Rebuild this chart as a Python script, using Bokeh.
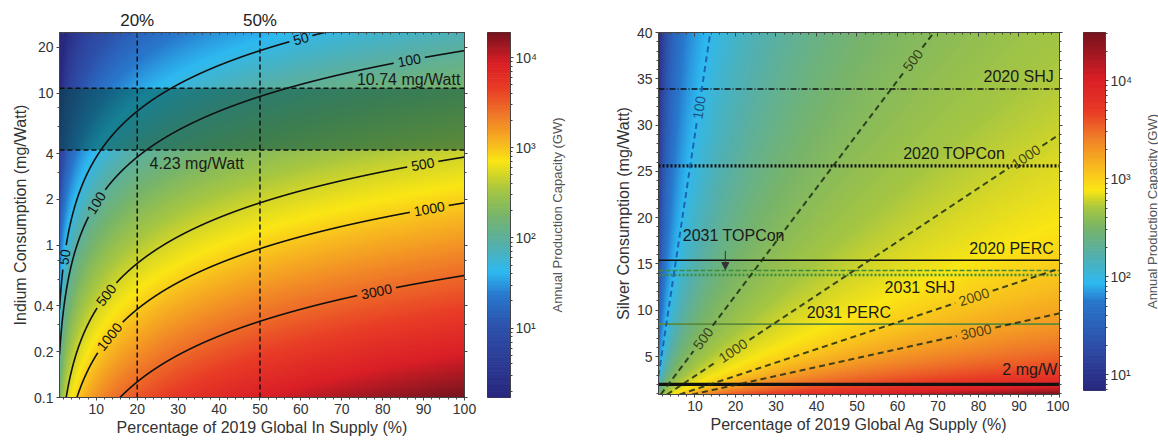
import numpy as np
from bokeh.plotting import figure
from bokeh.models import (LinearAxis, LogAxis, FixedTicker, NumeralTickFormatter,
                          CustomJSTickFormatter, LinearColorMapper, Arrow, NormalHead)
from bokeh.layouts import row
from bokeh.core.properties import value
from bokeh.embed import file_html
from bokeh.resources import INLINE

FONT = "Liberation Sans"

# ---------------- data ----------------
# capacity (GW) = pct/100 * supply / consumption(mg/W)
in_supply = 1900.0
ag_supply = 29000.0
in_pct_range = [1, 100]
in_mg_range = [0.1, 25]
ag_pct_range = [1, 100]
ag_mg_range = [0.9, 40]
in_cbar = [1.7, 19000]
ag_cbar = [6.9, 31000]
cbar_title = "Annual Production Capacity (GW)"

x_ticks = [10, 20, 30, 40, 50, 60, 70, 80, 90, 100]
in_y_ticks = [0.1, 0.2, 0.4, 1, 2, 4, 10, 20]
ag_y_ticks = [5, 10, 15, 20, 25, 30, 35, 40]
cbar_ticks = [10, 100, 1000, 10000]

in_levels = [50, 100, 500, 1000, 3000]
in_label_pct = [[60, 2.2], [86.5, 10], [89.8, 12.4], [91.4, 13.2], [78.5]]
in_ref_pct = [20, 50]
in_band_mg = [4.23, 10.74]
in_band_text = ["4.23 mg/Watt", "10.74 mg/Watt"]
in_band_text_pct = [23, 99]
in_band_text_mg = [3.44, 12.3]

ag_levels = [100, 500, 1000, 2000, 3000]
ag_label_pct = [[11], [63.8, 12], [91.7, 19.4], [78.9], [79.4]]
ag_tech = ["2020 SHJ", "2020 TOPCon", "2020 PERC", "2031 TOPCon", "2031 SHJ", "2031 PERC", "2 mg/W"]
ag_tech_mg = [33.9, 25.6, 15.4, 14.3, 13.8, 8.5, 2.0]
ag_tech_label_pct = [98.6, 74, 98.6, 7, 65.5, 48, 99.5]
ag_tech_label_mg = [35.2, 26.9, 16.7, 18.1, 12.5, 9.75, 3.55]

# ---------------- styles ----------------
tech_color = ["#111111", "#111111", "#111111", "#3c8c3c", "#3c8c3c", "#5a8a3a", "#111111"]
tech_dash = ["6 2 1 2", "2 2", "solid", "5 2", "2 2", "solid", "solid"]
tech_width = [1.6, 3.2, 1.6, 1.6, 2.6, 1.6, 3.2]
tech_align = ["right", "center", "right", "left", "center", "center", "right"]
ag_line_color = ["#1a55a8", "#1c2c14", "#1c2c14", "#1c2c14", "#1c2c14"]
ag_text_color = ["#163a6b", "#2a2a10", "#2a2a10", "#2a2a10", "#2a2a10"]

cb_colors = [(40, 40, 125), (45, 60, 150), (45, 80, 170), (40, 120, 205), (45, 185, 240),
             (85, 175, 170), (120, 180, 105), (165, 198, 65), (215, 215, 38), (250, 230, 20),
             (248, 190, 30), (240, 125, 40), (232, 60, 38), (218, 30, 38), (120, 20, 30)]
in_stops = [0, 0.10, 0.19, 0.28, 0.345, 0.42, 0.50, 0.57, 0.615, 0.65, 0.69, 0.77, 0.85, 0.92, 1.0]
in_map_stops = [0, 0.10, 0.19, 0.28, 0.345, 0.42, 0.50, 0.57, 0.615, 0.655, 0.70, 0.78, 0.86, 0.93, 1.0]
ag_stops = [0, 0.07, 0.13, 0.25, 0.30, 0.38, 0.455, 0.51, 0.54, 0.56, 0.62, 0.71, 0.78, 0.87, 1.0]
ag_map_stops = [0, 0.07, 0.13, 0.24, 0.31, 0.40, 0.48, 0.56, 0.60, 0.64, 0.69, 0.77, 0.85, 0.93, 1.0]


def make_palette(stops, n=256):
    t = np.linspace(0, 1, n)
    arr = np.array(cb_colors, float)
    ch = [np.interp(t, stops, arr[:, k]) for k in range(3)]
    return ["#%02x%02x%02x" % (int(round(r)), int(round(g)), int(round(b))) for r, g, b in zip(*ch)]


def style_axis(ax, size="14px"):
    ax.axis_line_color = "#444"
    ax.major_tick_line_color = "#444"
    ax.minor_tick_line_color = "#444"
    ax.major_label_text_font = FONT
    ax.major_label_text_font_size = size
    ax.major_label_text_color = "#333"
    ax.axis_label_text_font = FONT
    ax.axis_label_text_font_size = "16px"
    ax.axis_label_text_font_style = "normal"
    ax.axis_label_text_color = "#333"
    ax.major_tick_out = 3
    ax.major_tick_in = 0
    ax.minor_tick_out = 2
    ax.minor_tick_in = 0
    ax.major_label_standoff = 3
    ax.axis_label_standoff = 2


def bare_axis(cls, ticks, minor, inward):
    ax = cls(ticker=FixedTicker(ticks=ticks, minor_ticks=minor),
             formatter=CustomJSTickFormatter(code="return '';"))
    style_axis(ax)
    if inward:
        ax.major_tick_out, ax.major_tick_in = 0, 4
        ax.minor_tick_out, ax.minor_tick_in = 0, 2
    ax.major_label_standoff = 0
    return ax


x_minor = list(range(2, 101, 2))


def heat(p, supply, xr, yr, logy, pal, cb, nx, ny):
    xs = np.linspace(xr[0], xr[1], nx)
    ys = np.logspace(np.log10(yr[0]), np.log10(yr[1]), ny) if logy else np.linspace(yr[0], yr[1], ny)
    X, Y = np.meshgrid(xs, ys)
    C = X / 100.0 * supply / Y
    mapper = LinearColorMapper(palette=pal, low=np.log10(cb[0]), high=np.log10(cb[1]))
    p.image(image=[np.log10(C)], x=xr[0], y=yr[0], dw=xr[1] - xr[0], dh=yr[1] - yr[0],
            color_mapper=mapper)


def contour(p, supply, level, xr, yr, sx, sy, labels, fs, color, dash, width, tcolor, alpha):
    lo = max(xr[0], yr[0] * 100.0 * level / supply)
    hi = min(xr[1], yr[1] * 100.0 * level / supply)
    pct = np.linspace(lo, hi, 3000)
    mg = pct * supply / (100.0 * level)
    spx, spy = sx(pct), sy(mg)
    mgp = mg.copy()
    for lx in labels:
        ly = lx * supply / (100.0 * level)
        txt = str(level)
        hw = len(txt) * 0.56 * fs / 2 + 4
        d = np.hypot(spx - sx(lx), spy - sy(ly))
        mgp[d < hw] = np.nan
        dd = 0.05
        a = np.arctan2(sy((lx + dd) * supply / (100.0 * level)) - sy((lx - dd) * supply / (100.0 * level)),
                       sx(lx + dd) - sx(lx - dd))
        p.text(x=[lx], y=[ly], text=[txt], angle=[a], text_align="center", text_baseline="middle",
               text_font=value(FONT), text_font_size="%dpx" % fs, text_color=tcolor, text_alpha=alpha)
    p.line(pct, mgp, line_color=color, line_dash=dash, line_width=width, line_alpha=alpha)


def colorbar_fig(cb, pal, fw, fh, bl, br, bt, bb):
    c = figure(frame_width=fw, frame_height=fh, x_range=(0, 1), y_range=(cb[0], cb[1]),
               y_axis_type="log", y_axis_location="right", output_backend="svg",
               toolbar_location=None, min_border_left=bl, min_border_right=br,
               min_border_top=bt, min_border_bottom=bb, outline_line_color="#444")
    c.grid.visible = False
    c.xaxis.visible = False
    edges = np.logspace(np.log10(cb[0]), np.log10(cb[1]), len(pal) + 1)
    c.quad(left=0, right=1, bottom=edges[:-1], top=edges[1:], fill_color=pal, line_color=pal)
    ax = c.yaxis[0]
    style_axis(ax)
    minor = [m * 10 ** e for e in range(0, 5) for m in range(2, 10)]
    ax.ticker = FixedTicker(ticks=cbar_ticks, minor_ticks=minor)
    ax.formatter = CustomJSTickFormatter(code="""
        const s = {1: '\u00b9', 2: '\u00b2', 3: '\u00b3', 4: '\u2074'};
        const e = Math.round(Math.log10(tick));
        return '10' + (s[e] || e);
    """)
    ax.major_label_standoff = 2
    return c


def title_fig(fh, bl, fw, bt, bb, text):
    f = figure(frame_width=fw, frame_height=fh, x_range=(0, 1), y_range=(0, 1),
               output_backend="svg", toolbar_location=None, min_border_left=bl,
               min_border_right=0, min_border_top=bt, min_border_bottom=bb, outline_line_color=None)
    f.grid.visible = False
    f.xaxis.visible = False
    ax = f.yaxis[0]
    style_axis(ax)
    ax.ticker = FixedTicker(ticks=[])
    ax.axis_line_color = None
    ax.major_tick_line_color = None
    ax.minor_tick_line_color = None
    ax.major_tick_out = 0
    ax.minor_tick_out = 0
    ax.major_label_standoff = 0
    ax.axis_label_standoff = 0
    ax.axis_label = text
    ax.axis_label_text_font_size = "13px"
    ax.axis_label_text_color = "#555"
    return f


# ---------------- left: indium ----------------
FW1, FH1 = 405, 365
p1 = figure(frame_width=FW1, frame_height=FH1, x_range=(in_pct_range[0], in_pct_range[1]),
            y_range=(in_mg_range[0], in_mg_range[1]), y_axis_type="log",
            output_backend="svg", toolbar_location=None,
            min_border_left=59, min_border_right=15, min_border_top=31, min_border_bottom=42,
            outline_line_color="#444")
p1.grid.visible = False
p1.xaxis.ticker = FixedTicker(ticks=x_ticks, minor_ticks=x_minor)
p1.xaxis.axis_label = "Percentage of 2019 Global In Supply (%)"
p1.yaxis.ticker = FixedTicker(ticks=in_y_ticks, minor_ticks=[0.3, 0.6, 0.8, 3, 6, 8])
p1.yaxis.formatter = NumeralTickFormatter(format="0.[0]")
p1.yaxis.axis_label = "Indium Consumption (mg/Watt)"
for ax in p1.xaxis + p1.yaxis:
    style_axis(ax)
top1 = LinearAxis(ticker=FixedTicker(ticks=in_ref_pct, minor_ticks=x_minor),
                  formatter=CustomJSTickFormatter(code="return tick + '%';"))
style_axis(top1, "17px")
top1.major_label_text_color = "#222"
top1.major_tick_out, top1.major_tick_in = 0, 4
top1.minor_tick_out, top1.minor_tick_in = 0, 2
p1.add_layout(top1, "above")
p1.add_layout(bare_axis(LogAxis, in_y_ticks, [0.3, 0.6, 0.8, 3, 6, 8], False), "right")

heat(p1, in_supply, in_pct_range, in_mg_range, True, make_palette(in_map_stops), in_cbar, 405, 365)

L0, L1 = np.log10(in_mg_range[0]), np.log10(in_mg_range[1])
sx1 = lambda x: (np.asarray(x, float) - in_pct_range[0]) / (in_pct_range[1] - in_pct_range[0]) * FW1
sy1 = lambda y: (np.log10(np.asarray(y, float)) - L0) / (L1 - L0) * FH1

p1.quad(left=in_pct_range[0], right=in_pct_range[1], bottom=in_band_mg[0], top=in_band_mg[1],
        fill_color="#00473a", fill_alpha=0.5, line_color=None)

for lev, labs in zip(in_levels, in_label_pct):
    contour(p1, in_supply, lev, in_pct_range, in_mg_range, sx1, sy1, labs, 14,
            "#111111", "solid", 1.6, "#111111", 1.0)

p1.segment(x0=in_ref_pct, y0=in_mg_range[0], x1=in_ref_pct, y1=in_mg_range[1],
           line_color="#111111", line_dash="5 3", line_width=1.5)
p1.segment(x0=in_pct_range[0], y0=in_band_mg, x1=in_pct_range[1], y1=in_band_mg,
           line_color="#111111", line_dash="5 3", line_width=1.5)
p1.text(x=[in_band_text_pct[0]], y=[in_band_text_mg[0]], text=[in_band_text[0]], text_align="left",
        text_baseline="middle", text_font=value(FONT), text_font_size="16px", text_color="#1a1a1a")
p1.text(x=[in_band_text_pct[1]], y=[in_band_text_mg[1]], text=[in_band_text[1]], text_align="right",
        text_baseline="middle", text_font=value(FONT), text_font_size="16px", text_color="#1a1a1a")

c1 = colorbar_fig(in_cbar, make_palette(in_stops), 23, 365, 8, 36, 32, 41)
t1 = title_fig(365, 16, 12, 32, 41, cbar_title)

# ---------------- right: silver ----------------
FW3, FH3 = 401, 362
p3 = figure(frame_width=FW3, frame_height=FH3, x_range=(ag_pct_range[0], ag_pct_range[1]),
            y_range=(ag_mg_range[0], ag_mg_range[1]),
            output_backend="svg", toolbar_location=None,
            min_border_left=82, min_border_right=10, min_border_top=30, min_border_bottom=46,
            outline_line_color="#444")
p3.grid.visible = False
p3.xaxis.ticker = FixedTicker(ticks=x_ticks, minor_ticks=x_minor)
p3.xaxis.axis_label = "Percentage of 2019 Global Ag Supply (%)"
p3.yaxis.ticker = FixedTicker(ticks=ag_y_ticks, minor_ticks=list(range(1, 41)))
p3.yaxis.axis_label = "Silver Consumption (mg/Watt)"
for ax in p3.xaxis + p3.yaxis:
    style_axis(ax)
p3.add_layout(bare_axis(LinearAxis, x_ticks, x_minor, True), "above")
p3.add_layout(bare_axis(LinearAxis, ag_y_ticks, list(range(1, 41)), False), "right")

heat(p3, ag_supply, ag_pct_range, ag_mg_range, False, make_palette(ag_map_stops), ag_cbar, 401, 362)

sx3 = lambda x: (np.asarray(x, float) - ag_pct_range[0]) / (ag_pct_range[1] - ag_pct_range[0]) * FW3
sy3 = lambda y: (np.asarray(y, float) - ag_mg_range[0]) / (ag_mg_range[1] - ag_mg_range[0]) * FH3

for i in range(len(ag_tech)):
    p3.segment(x0=[ag_pct_range[0]], y0=[ag_tech_mg[i]], x1=[ag_pct_range[1]], y1=[ag_tech_mg[i]],
               line_color=tech_color[i], line_dash=tech_dash[i], line_width=tech_width[i])

for lev, labs, lc, tc in zip(ag_levels, ag_label_pct, ag_line_color, ag_text_color):
    contour(p3, ag_supply, lev, ag_pct_range, ag_mg_range, sx3, sy3, labs, 14,
            lc, "6 4", 2.0, tc, 0.85)

for i in range(len(ag_tech)):
    p3.text(x=[ag_tech_label_pct[i]], y=[ag_tech_label_mg[i]], text=[ag_tech[i]], text_align=tech_align[i],
            text_baseline="middle", text_font=value(FONT), text_font_size="16px", text_color="#1a1a1a")

ax_x = ag_tech_label_pct[3] + 10.5
p3.add_layout(Arrow(end=NormalHead(size=7, fill_color="#333333", line_color="#333333"),
                    x_start=ax_x, y_start=ag_tech_label_mg[3] - 1.7, x_end=ax_x, y_end=ag_tech_mg[3] + 0.1,
                    line_color="#333333", line_width=1))

c3 = colorbar_fig(ag_cbar, make_palette(ag_stops), 22, 358, 14, 36, 29, 51)
t3 = title_fig(358, 14, 2, 29, 51, cbar_title)

layout = row(p1, c1, t1, p3, c3, t3)
open("out.html", "w").write(file_html(layout, INLINE))
